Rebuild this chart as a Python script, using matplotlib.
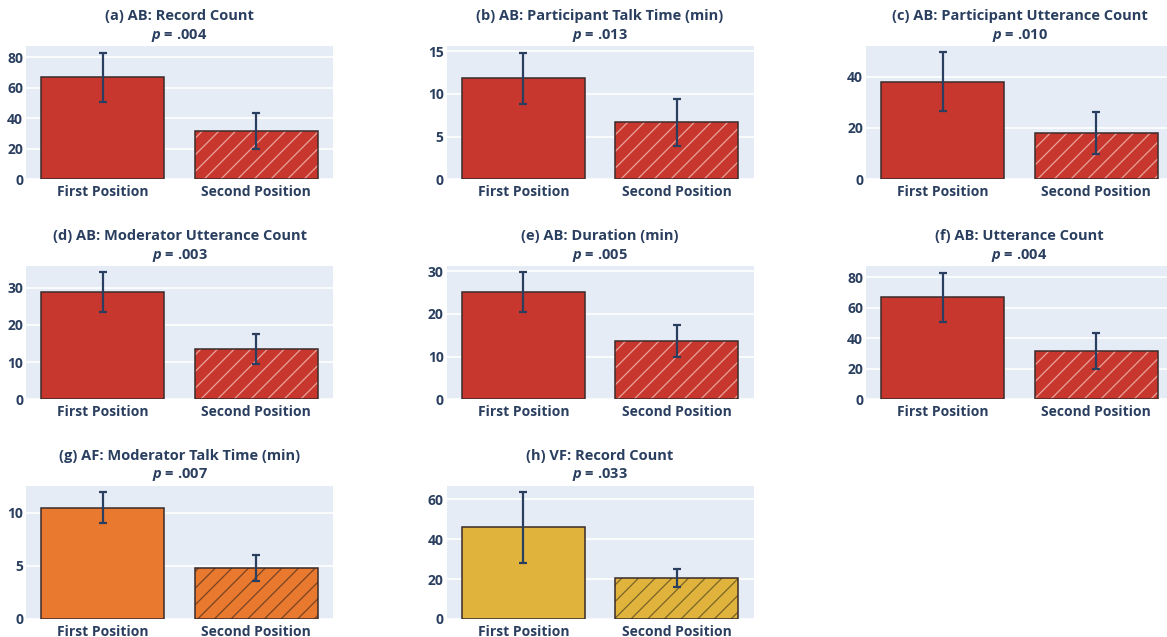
"""Position effect bar panels (AB / AF / VF) -> out.png"""

import numpy as np
import matplotlib
matplotlib.use("Agg")
import matplotlib.pyplot as plt  # noqa: E402

CATS = ["First Position", "Second Position"]
TITLES = ["(a) AB: Record Count", "(b) AB: Participant Talk Time (min)",
          "(c) AB: Participant Utterance Count", "(d) AB: Moderator Utterance Count",
          "(e) AB: Duration (min)", "(f) AB: Utterance Count",
          "(g) AF: Moderator Talk Time (min)", "(h) VF: Record Count"]
PVALS = [".004", ".013", ".010", ".003", ".005", ".004", ".007", ".033"]
MEANS = [[66.8, 31.6], [11.8, 6.7], [38.0, 18.0], [28.8, 13.5],
         [25.1, 13.7], [66.8, 31.6], [10.5, 4.8], [45.9, 20.6]]
ERRS = [[16.0, 12.0], [3.0, 2.75], [11.4, 8.2], [5.3, 4.0],
        [4.6, 3.7], [16.0, 12.0], [1.5, 1.2], [17.7, 4.6]]
YMAX = [87.2, 15.6, 51.9, 35.8, 31.2, 87.2, 12.56, 66.8]
YSTEP = [20, 5, 20, 10, 10, 20, 5, 20]
GROUP = ["AB", "AB", "AB", "AB", "AB", "AB", "AF", "VF"]

FILL = {"AB": "#C8372D", "AF": "#E8792F", "VF": "#E0B33C"}
HATCH = {"AB": "#E9A39D", "AF": "#7A4322", "VF": "#7A6428"}
EDGE = "#3A2B2B"
INK = "#2A3F5F"

plt.rcParams["font.family"] = ["Open Sans", "DejaVu Sans"]
plt.rcParams["font.weight"] = "bold"
plt.rcParams["mathtext.fontset"] = "custom"
plt.rcParams["mathtext.it"] = "Open Sans:italic:bold"
plt.rcParams["mathtext.rm"] = "Open Sans:bold"
plt.rcParams["hatch.linewidth"] = 0.9

W, H = 1167, 637
fig = plt.figure(figsize=(W / 100, H / 100), dpi=100)

# panel geometry in pixels (left edges, top edges)
COLS = [26, 446.5, 866]
ROWS = [46, 266, 485.7]
PW, PH = 307, 133.3

x = np.arange(len(CATS))
for i in range(8):
    r, c = divmod(i, 3)
    ax = fig.add_axes([COLS[c] / W, 1 - (ROWS[r] + PH) / H, PW / W, PH / H])
    ax.set_facecolor("#E5ECF6")
    for s in ax.spines.values():
        s.set_visible(False)
    ax.set_axisbelow(True)
    ax.grid(axis="y", color="white", lw=1.2)

    g = GROUP[i]
    m, e = MEANS[i], ERRS[i]
    ax.bar(x[0], m[0], 0.8, color=FILL[g], edgecolor=EDGE, lw=1.1, zorder=2)
    # hatched second bar: fill + hatch layer, then outline layer
    ax.bar(x[1], m[1], 0.8, color=FILL[g], edgecolor=HATCH[g], lw=0,
           hatch="//", zorder=2)
    ax.bar(x[1], m[1], 0.8, fill=False, edgecolor=EDGE, lw=1.1, zorder=3)
    ax.errorbar(x, m, yerr=e, fmt="none", ecolor=INK, elinewidth=1.6,
                capsize=3.2, capthick=1.6, zorder=4)

    ax.set_xlim(-0.5, 1.5)
    ax.set_ylim(0, YMAX[i])
    ax.set_yticks(np.arange(0, YMAX[i], YSTEP[i]))
    ax.set_xticks(x)
    ax.set_xticklabels(CATS)
    ax.tick_params(length=0, labelsize=10, colors=INK, pad=2)
    ax.tick_params(axis="x", pad=4)

    ax.annotate(TITLES[i], xy=(0.5, 1), xycoords="axes fraction",
                xytext=(0, 30), textcoords="offset pixels", ha="center",
                va="center", fontsize=10.5, color=INK)
    ax.annotate(f"$p$ = {PVALS[i]}", xy=(0.5, 1), xycoords="axes fraction",
                xytext=(0, 11), textcoords="offset pixels", ha="center",
                va="center", fontsize=10.5, color=INK)

fig.savefig("out.png", dpi=100)
